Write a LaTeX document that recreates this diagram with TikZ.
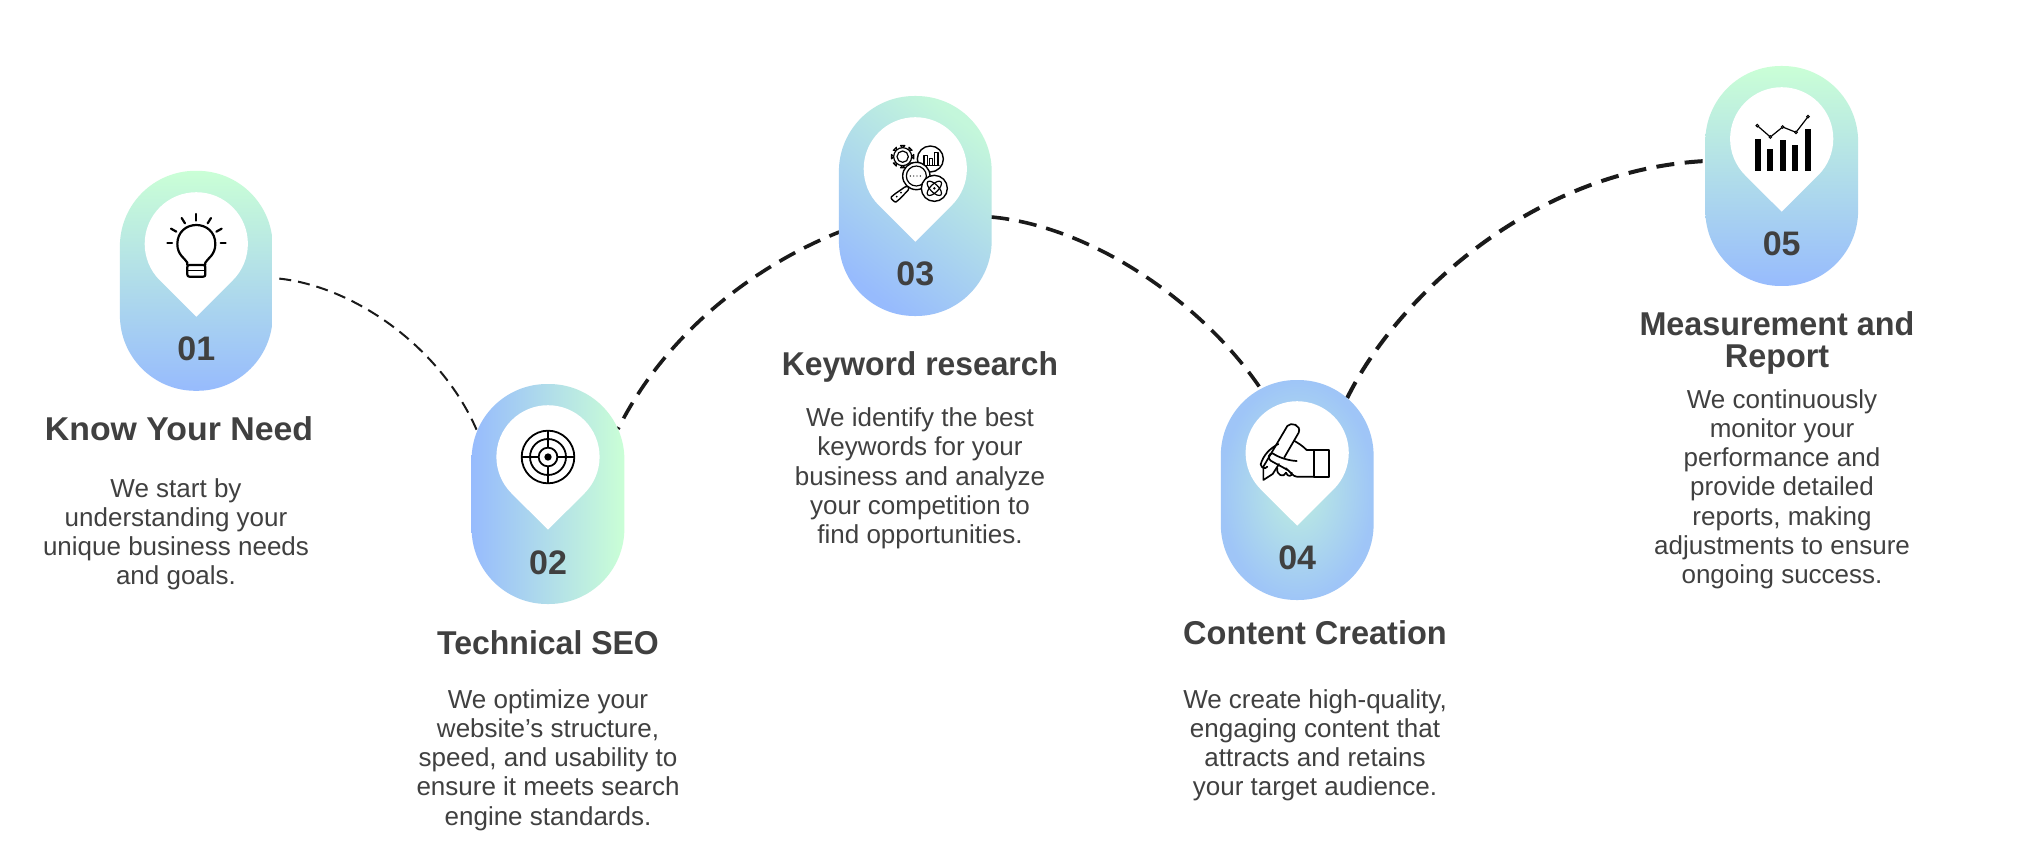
\documentclass[tikz,border=0pt]{standalone}
\usepackage{fontspec}
\setmainfont{Liberation Sans}
\usetikzlibrary{calc}
\pgfdeclarelayer{bg}
\pgfsetlayers{bg,main}
\definecolor{mint}{HTML}{CAFFD6}
\definecolor{sky}{HTML}{97BBFD}
\definecolor{txt}{HTML}{404040}
\definecolor{ink}{HTML}{1A1A1A}
\newcommand{\pinmark}[1]{\fill[white] (#1) ++(0,72.7) -- ++(-36.5,-36.4) arc[start angle=135,end angle=405,radius=51.6] -- cycle;}
\tikzset{
 pill/.style={inner sep=0pt,outer sep=0pt,minimum width=152.8pt,minimum height=220pt,rounded corners=75.5pt},
 num/.style={font=\fontsize{34}{34}\bfseries\selectfont,text=txt,inner sep=0pt},
 head/.style={font=\fontsize{33}{33}\bfseries\selectfont,text=txt,inner sep=0pt,align=center},
 bodytxt/.style={font=\fontsize{26}{29.3}\selectfont,text=txt,inner sep=0pt,align=center,anchor=north,execute at begin node={\rule{0pt}{18pt}}},
 conn/.style={draw=ink,line width=#1},
 icon/.style={line width=2pt,draw=black,line cap=round,line join=round},
 zoomed/.style={x=0.33333pt,y=-0.33333pt}
}
\begin{document}
\begin{tikzpicture}[x=1pt,y=-1pt]
\useasboundingbox (0,0) rectangle (2031,842);
\begin{pgfonlayer}{bg}
\fill[white] (0,0) rectangle (2031,842);
\end{pgfonlayer}
% pills
\node[pill,top color=mint,bottom color=sky] (p1) at (196.3,280.8) {};
\node[pill,left color=sky,right color=mint] (p2) at (548,494) {};
\node[pill,top color=mint!88!sky,bottom color=sky,shading angle=-38] (p3) at (915.3,206) {};
\node[pill,inner color=mint!75!sky,outer color=sky!85!mint] (p4) at (1297.2,490) {};
\node[pill,top color=mint,bottom color=sky] (p5) at (1781.7,176) {};
% pins
\pinmark{196.3,244}
\pinmark{548,457}
\pinmark{915.3,169}
\pinmark{1297.2,453}
\pinmark{1781.7,139}
% connectors
\begin{pgfonlayer}{bg}
\coordinate (a1) at ($(p1)+(76,-2.8)$);
\coordinate (b1) at ($(p2)+(-71.3,-64)$);
\coordinate (a2) at ($(p2)+(70,-65)$);
\coordinate (b2) at ($(p3)+(-76,26)$);
\coordinate (a3) at ($(p3)+(76,11)$);
\coordinate (b3) at ($(p4)+(-37,-102)$);
\coordinate (a4) at ($(p4)+(50,-92)$);
\coordinate (b4) at ($(p5)+(-76,-15)$);
\draw[conn=2pt,dash pattern=on 12pt off 7pt,dash phase=12pt] (a1) .. controls +(77,5) and +(-37,-85) .. (b1);
\draw[conn=3.6pt,dash pattern=on 18pt off 10pt,dash phase=16pt] (a2) .. controls +(50,-100) and +(-80,32) .. (b2);
\draw[conn=3.6pt,dash pattern=on 18pt off 10pt] (a3) .. controls +(98,9) and +(-60,-88) .. (b3);
\draw[conn=4pt,dash pattern=on 18pt off 10.5pt] (a4) .. controls +(48,-98) and +(-175,9) .. (b4);
\end{pgfonlayer}
% numbers
\node[num] (n1) at (196.3,348.5) {01};
\node[num] (n2) at (548,562.5) {02};
\node[num] (n3) at (915.3,274) {03};
\node[num] (n4) at (1297.2,558) {04};
\node[num] (n5) at (1781.7,244) {05};
% headings
\node[head,xscale=1.025] (h1) at (179,429) {Know Your Need};
\node[head,xscale=.97] (h2) at (548,642.5) {Technical SEO};
\node[head,xscale=.965] (h3) at (920,367) {Keyword research};
\node[head,xscale=.985] (h4) at (1315,633) {Content Creation};
\node[head,xscale=.98] (h5a) at (1777,324) {Measurement and};
\node[head,xscale=.98] (h5b) at (1777,360) {Report};
% body
\node[bodytxt] (t1) at (176,478) {We start by\\understanding your\\unique business needs\\and goals.};
\node[bodytxt] (t2) at (548,689) {We optimize your\\website’s structure,\\speed, and usability to\\ensure it meets search\\engine standards.};
\node[bodytxt] (t3) at (920,407.5) {We identify the best\\keywords for your\\business and analyze\\your competition to\\find opportunities.};
\node[bodytxt] (t4) at (1315,689) {We create high-quality,\\engaging content that\\attracts and retains\\your target audience.};
\node[bodytxt] (t5) at (1782,389) {We continuously\\monitor your\\performance and\\provide detailed\\reports, making\\adjustments to ensure\\ongoing success.};
% icon 1: bulb
\begin{scope}[shift={(100,150)},zoomed]
\draw[icon,line width=2.2pt] (262,345) -- (262,338) .. controls (255,325) and (232,315) .. (232,282)
  .. controls (232,245) and (260,225) .. (289,225) .. controls (318,225) and (346,245) .. (346,282)
  .. controls (346,315) and (323,325) .. (316,338) -- (316,345);
\draw[icon,line width=2.2pt,rounded corners=2pt] (262,345) -- (316,345) -- (316,380) -- (262,380) -- cycle;
\draw[icon,line width=1.6pt] (262,362) -- (316,362);
\foreach \xa/\ya/\xb/\yb in {289/192/289/212, 245/204/255/220, 333/204/323/220, 213/236/229/245, 365/236/349/245, 202/280/216/280, 362/280/377/280}
  \draw[icon,line width=2.2pt] (\xa,\ya) -- (\xb,\yb);
\end{scope}
% icon 2: target
\begin{scope}[shift={(460,370)},zoomed]
\draw[icon,line width=1.8pt] (264,261) circle (79);
\draw[icon,line width=1.8pt] (264,261) circle (54);
\draw[icon,line width=1.8pt] (264,261) circle (28);
\fill[black] (264,261) circle (11);
\draw[icon,line width=1.6pt,line cap=butt] (185,261) -- (236,261) (292,261) -- (343,261) (264,182) -- (264,233) (264,289) -- (264,340);
\end{scope}
% icon 3: research
\begin{scope}[shift={(830,90)},zoomed]
\foreach \a in {0,45,...,315}
  \draw[icon,line width=1.2pt,fill=white] ($(218,200)+(\a:26)$) -- ($(218,200)+(\a-11:34)$) -- ($(218,200)+(\a+11:34)$) -- cycle;
\draw[icon,line width=1.2pt,fill=white] (218,200) circle (27);
\draw[icon,line width=1.2pt] (218,200) circle (17);
\draw[icon,line width=1.4pt,fill=white] (301,207) circle (39);
\foreach \l/\t/\r in {282/197/292, 298/206/308, 314/187/324}
  \draw[icon,line width=1.2pt] (\l,225) -- (\l,\t) -- (\r,\t) -- (\r,225);
\draw[icon,line width=1.2pt] (277,226) -- (327,226);
\draw[icon,line width=1.4pt,fill=white,rounded corners=3pt] (232,286) -- (240,295) -- (205,331) .. controls (195,338) and (180,325) .. (190,315) -- cycle;
\fill[black] (200,320) circle (3) (213,308) circle (3);
\draw[icon,line width=1.4pt,fill=white] (259,258) circle (41);
\draw[icon,line width=1.2pt] (259,258) circle (30);
\fill[black] (241,258) circle (2) (251,258) circle (2) (261,258) circle (2) (271,258) circle (2);
\draw[icon,line width=1.4pt,fill=white] (313,295) circle (39);
\draw[icon,line width=1.2pt,rotate around={45:(313,295)}] (313,295) ellipse (28 and 12);
\draw[icon,line width=1.2pt,rotate around={-45:(313,295)}] (313,295) ellipse (28 and 12);
\fill[black] (313,295) circle (4);
\end{scope}
% icon 4: hand with pen
\begin{scope}[shift={(1210,370)},zoomed]
\draw[icon,line width=1.7pt] (312,240) rectangle (356,320);
\draw[icon,line width=1.7pt] (312,240) -- (290,240) .. controls (275,225) and (265,220) .. (252,212);
\draw[icon,line width=1.7pt] (312,320) -- (260,320) .. controls (250,320) and (240,305) .. (228,295);
\draw[icon,line width=1.7pt] (160,290) -- (232,168) .. controls (242,155) and (275,165) .. (266,188) -- (223,262);
\draw[icon,line width=1.7pt] (207,282) -- (188,312) -- (160,330) -- (160,290);
\draw[icon,line width=1.7pt] (205,222) .. controls (180,235) and (160,255) .. (152,283) .. controls (155,295) and (165,298) .. (172,290);
\draw[icon,line width=1.7pt] (260,273) .. controls (235,272) and (205,262) .. (188,250) .. controls (175,250) and (172,265) .. (182,272) .. controls (205,285) and (225,295) .. (232,300);
\draw[icon,line width=1.7pt] (202,295) .. controls (198,315) and (222,325) .. (228,308);
\draw[icon,line width=1.7pt] (228,308) .. controls (232,322) and (248,320) .. (245,308);
\end{scope}
% icon 5: chart
\begin{scope}[shift={(1700,60)},zoomed]
\foreach \l/\t in {164/236,202/268,239/241,277/255,315/208}
  \fill[black] (\l,\t) rectangle ++(18,333-\t);
\draw[icon,line width=1.2pt] (172,197) -- (211,231) -- (248,201) -- (288,217) -- (324,170);
\foreach \x/\y in {172/197,211/231,248/201,288/217,324/170}
  \draw[line width=1pt,fill=white] (\x,\y) circle (4);
\end{scope}
\end{tikzpicture}
\end{document}
